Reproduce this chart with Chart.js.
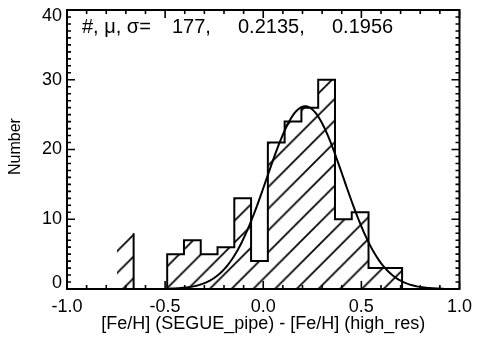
<!DOCTYPE html>
<html>
<head>
<meta charset="utf-8">
<script src="https://cdn.jsdelivr.net/npm/chart.js@4/dist/chart.umd.min.js"></script>
<style>
  html, body { margin: 0; padding: 0; background: #fff; }
  #wrap { width: 479px; height: 339px; }
</style>
</head>
<body>
<div id="wrap"><canvas id="c" width="479" height="339"></canvas></div>
<script>
// Histogram of [Fe/H] differences: bins start at binStart, each binWidth wide
const binStart = -0.746;
const binWidth = 0.0855;
const counts = [8, 0, 0, 5, 7, 5, 6, 13, 4, 21, 24, 26, 30, 10, 11, 3, 3];

// Gaussian fit parameters (shown in the annotation) and fitted peak height
const fitN = 177;
const fitMu = 0.2135;
const fitSigma = 0.1956;
const fitPeak = 26.2;
const curveFrom = -0.49;
const curveTo = 0.92;

// Axis tick labels
const xTicks = [-1.0, -0.5, 0.0, 0.5, 1.0];
const yTicks = [0, 10, 20, 30, 40];

const FONT = 'Liberation Sans, Arial, Helvetica, sans-serif';

// Bin edges
const edges = counts.map((_, k) => binStart + k * binWidth);
const lastEdge = binStart + counts.length * binWidth;

// Hatched fill: step curve through every bin, closed to zero
const fillPts = counts.map((c, k) => ({ x: edges[k], y: c }));
fillPts.push({ x: lastEdge, y: 0 });

// Outline: starts at the right edge of the first (isolated) bin
const outlinePts = [{ x: edges[1], y: counts[0] }];
for (let k = 1; k < counts.length; k++) outlinePts.push({ x: edges[k], y: counts[k] });
outlinePts.push({ x: lastEdge, y: 0 });

// Gaussian curve from the fit parameters
const curvePts = [];
for (let i = 0; ; i++) {
  const x = curveFrom + i * 0.01;
  if (x > curveTo + 1e-9) break;
  const z = (x - fitMu) / fitSigma;
  curvePts.push({ x: x, y: fitPeak * Math.exp(-0.5 * z * z) });
}

// Diagonal "/" hatch pattern (period ~21.7px, fixed phase on the canvas)
function makeHatch() {
  const p = 22;
  const t = document.createElement('canvas');
  t.width = p; t.height = p;
  const g = t.getContext('2d');
  g.strokeStyle = '#000';
  g.lineWidth = 1.75;
  [0, p, 2 * p].forEach(c => {
    g.beginPath();
    g.moveTo(c + 4, -4);
    g.lineTo(c - p - 4, p + 4);
    g.stroke();
  });
  const pat = document.getElementById('c').getContext('2d').createPattern(t, 'repeat');
  const period = 21.73;
  pat.setTransform(new DOMMatrix().translate(20.6, 0).scale(period / p));
  return pat;
}

// Box frame, inward ticks on all four sides, y labels, and the fit summary
const framePlugin = {
  id: 'frame',
  afterDatasetsDraw(chart) {
    const { ctx, chartArea: a, scales: { x, y } } = chart;
    ctx.save();
    ctx.strokeStyle = '#000';
    ctx.lineWidth = 1.6;
    ctx.beginPath();
    for (let i = 0; i <= 20; i++) {
      const v = -1 + i * 0.1;
      const px = x.getPixelForValue(v);
      const len = i % 5 === 0 ? 8 : 4;
      ctx.moveTo(px, a.bottom); ctx.lineTo(px, a.bottom - len);
      ctx.moveTo(px, a.top); ctx.lineTo(px, a.top + len);
    }
    for (let j = 0; j <= 40; j++) {
      const py = y.getPixelForValue(j);
      const len = j % 10 === 0 ? 8 : 4;
      ctx.moveTo(a.left, py); ctx.lineTo(a.left + len, py);
      ctx.moveTo(a.right, py); ctx.lineTo(a.right - len, py);
    }
    ctx.stroke();
    ctx.lineWidth = 2;
    ctx.strokeRect(a.left, a.top, a.right - a.left, a.bottom - a.top);

    ctx.fillStyle = '#000';

    // y tick labels, kept inside the axis span
    ctx.font = '18px ' + FONT;
    ctx.textAlign = 'right';
    ctx.textBaseline = 'middle';
    yTicks.forEach(v => {
      let py = y.getPixelForValue(v);
      py = Math.min(Math.max(py, a.top + 6), a.bottom - 6);
      ctx.fillText(String(v), a.left - 5, py);
    });

    // y axis title
    ctx.save();
    ctx.translate(16, (a.top + a.bottom) / 2 - 3);
    ctx.rotate(-Math.PI / 2);
    ctx.textAlign = 'center';
    ctx.font = '16px ' + FONT;
    ctx.fillText('Number', 0, 0);
    ctx.restore();

    // Fit summary
    ctx.font = '20px ' + FONT;
    ctx.textBaseline = 'alphabetic';
    ctx.textAlign = 'left';
    const base = a.top + 23;
    ctx.fillText('#, \u03bc, \u03c3=', a.left + 15, base);
    ctx.fillText(fitN + ',', a.left + 105, base);
    ctx.fillText(fitMu.toFixed(4) + ',', a.left + 171, base);
    ctx.fillText(fitSigma.toFixed(4), a.left + 265, base);
    ctx.restore();
  }
};

new Chart(document.getElementById('c'), {
  type: 'line',
  data: {
    datasets: [
      {
        data: curvePts,
        borderColor: '#000',
        borderWidth: 2,
        pointRadius: 0,
        fill: false,
        tension: 0,
        order: 0
      },
      {
        data: outlinePts,
        borderColor: '#000',
        borderWidth: 2,
        pointRadius: 0,
        stepped: 'before',
        fill: false,
        order: 1
      },
      {
        data: fillPts,
        borderWidth: 0,
        borderColor: 'rgba(0,0,0,0)',
        backgroundColor: makeHatch(),
        pointRadius: 0,
        stepped: 'before',
        fill: 'origin',
        order: 2
      }
    ]
  },
  options: {
    responsive: false,
    animation: false,
    devicePixelRatio: 1,
    layout: { padding: { left: 0, right: 19, top: 10, bottom: 0 } },
    plugins: { legend: { display: false }, tooltip: { enabled: false } },
    scales: {
      x: {
        type: 'linear',
        min: -1, max: 1,
        afterBuildTicks: s => { s.ticks = xTicks.map(v => ({ value: v })); },
        afterFit: s => { s.height = 50; },
        grid: { display: false, drawTicks: false },
        border: { display: false },
        ticks: {
          callback: v => v.toFixed(1),
          font: { family: FONT, size: 18 },
          color: '#000',
          padding: 7,
          maxRotation: 0,
          autoSkip: false
        },
        title: {
          display: true,
          text: '[Fe/H] (SEGUE_pipe) - [Fe/H] (high_res)',
          font: { family: FONT, size: 18 },
          color: '#000',
          padding: { top: 0, bottom: 4 }
        }
      },
      y: {
        type: 'linear',
        min: 0, max: 40,
        afterBuildTicks: s => { s.ticks = yTicks.map(v => ({ value: v })); },
        afterFit: s => { s.width = 67; },
        grid: { display: false, drawTicks: false },
        border: { display: false },
        ticks: { display: false },
        title: { display: false }
      }
    }
  },
  plugins: [framePlugin]
});
</script>
</body>
</html>
